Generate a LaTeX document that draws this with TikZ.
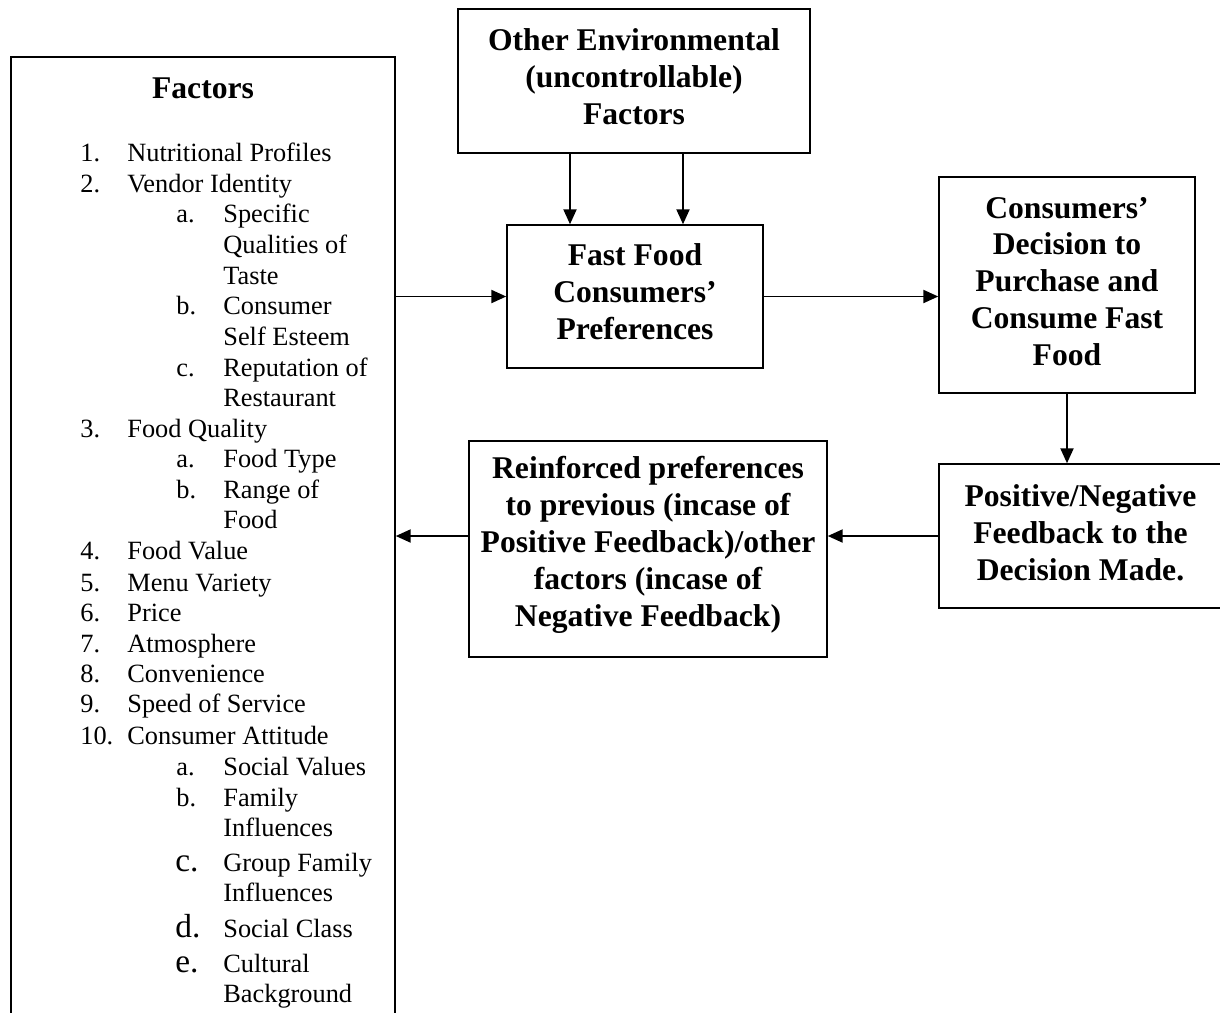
\documentclass[tikz,border=0pt]{standalone}
\usepackage{fontspec}
\setmainfont{Liberation Serif}
\usetikzlibrary{arrows.meta,fit}

\tikzset{
	pbox/.style={draw, line width=0.9pt, inner sep=0pt},
	ptext/.style={align=center, inner sep=0pt, font=\bfseries\fontsize{18}{21}\selectfont},
	arr/.style={line width=0.9pt, -{Triangle[length=8.5pt,width=7.5pt]}},
	listline/.style={anchor=west, inner sep=0pt, text height=1.5ex, text depth=.25ex,
		font=\fontsize{15}{17}\selectfont},
	biglet/.style={listline, font=\fontsize{19}{21}\selectfont},
}

\begin{document}
\begin{tikzpicture}[x=0.02cm, y=-0.02cm]
	\useasboundingbox (0,0) rectangle (1220,1012);

	%boxes
	\node[pbox, fit={(11,57) (395,1040)}] (factors) {};
	\node[pbox, fit={(458,9) (810,153)}] (env) {};
	\node[pbox, fit={(507,225) (763,368)}] (fastfood) {};
	\node[pbox, fit={(939,177) (1195,393)}] (decision) {};
	\node[pbox, fit={(939,464) (1222,608)}] (feedback) {};
	\node[pbox, fit={(469,441) (827,657)}] (reinf) {};

	%box texts, set a bit above the middle
	\node[ptext] (envtext) at ([yshift=0.08cm]env.center) {Other Environmental\\(uncontrollable)\\Factors};
	\node[ptext] (fastfoodtext) at ([yshift=0.09cm]fastfood.center) {Fast Food\\Consumers'\\Preferences};
	\node[ptext] (decisiontext) at ([yshift=0.07cm]decision.center) {Consumers'\\Decision to\\Purchase and\\Consume Fast\\Food};
	\node[ptext] (feedbacktext) at ([yshift=0.06cm]feedback.center) {Positive/Negative\\Feedback to the\\Decision Made.};
	\node[ptext] (reinftext) at ([yshift=0.08cm]reinf.center) {Reinforced preferences\\to previous (incase of\\Positive Feedback)/other\\factors (incase of\\Negative Feedback)};

	%list of factors
	\node[ptext] (title) at (203,88) {Factors};

	\begin{scope}[yshift=-0.08cm]	%list sits a little lower
	\foreach \y/\num/\txt [count=\i] in {152/1./Nutritional Profiles, 183/2./Vendor Identity,
		428/3./Food Quality, 550/4./Food Value, 582/5./Menu Variety, 612/6./Price,
		643/7./Atmosphere, 673/8./Convenience, 703/9./Speed of Service, 735/10./Consumer Attitude}
	{
		\node[listline] (num\i) at (80,\y) {\num};
		\node[listline] (main\i) at (127,\y) {\txt};
	}

	\foreach \y/\abc/\txt [count=\i] in {213/a./Specific, 305/b./Consumer, 367/c./Reputation of,
		458/a./Food Type, 489/b./Range of, 766/a./Social Values, 797/b./Family}
	{
		\node[listline] (abc\i) at (176,\y) {\abc};
		\node[listline] (sub\i) at (223,\y) {\txt};
	}

	\foreach \y/\abc/\txt [count=\i] in {862/c./Group Family, 928/d./Social Class, 963/e./Cultural}
	{
		\node[biglet] (bigabc\i) at (175,\y) {\abc};
		\node[listline] (bigsub\i) at (223,\y) {\txt};
	}

	\foreach \y/\txt [count=\i] in {244/Qualities of, 275/Taste, 336/Self Esteem, 397/Restaurant,
		519/Food, 827/Influences, 892/Influences, 993/Background}
		\node[listline] (cont\i) at (223,\y) {\txt};
	\end{scope}

	%arrows
	\coordinate (d1) at (570,0);
	\coordinate (d2) at (683,0);
	\draw[arr] (env.south -| d1) -- (fastfood.north -| d1);
	\draw[arr] (env.south -| d2) -- (fastfood.north -| d2);
	\draw[arr] (factors.east |- fastfood.west) -- (fastfood.west);
	\draw[arr] (fastfood.east) -- (fastfood.east -| decision.west);
	\draw[arr] (decision.south) -- (decision.south |- feedback.north);
	\draw[arr] (feedback.west) -- (feedback.west -| reinf.east);
	\draw[arr] (reinf.west |- feedback.west) -- (factors.east |- feedback.west);

\end{tikzpicture}
\end{document}
